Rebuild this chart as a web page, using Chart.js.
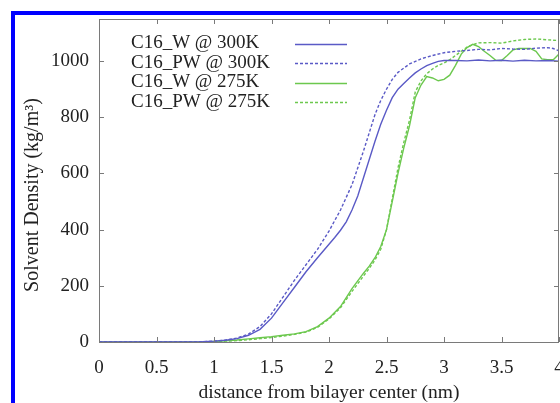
<!DOCTYPE html>
<html><head><meta charset="utf-8">
<script src="https://cdn.jsdelivr.net/npm/chart.js@4/dist/chart.umd.min.js"></script>
<style>html,body{margin:0;padding:0;background:#fff;overflow:hidden}#wrap{position:relative;width:560px;height:403px}</style>
</head><body><div id="wrap"><canvas id="c" width="560" height="403"></canvas></div>
<script>
// ---- data ----
const seriesLabels = ['C16_W @ 300K', 'C16_PW @ 300K', 'C16_W @ 275K', 'C16_PW @ 275K'];
const xTicks = [0, 0.5, 1, 1.5, 2, 2.5, 3, 3.5, 4];
const yTicks = [0, 200, 400, 600, 800, 1000];
const xTitle = 'distance from bilayer center (nm)';
const yTitle = 'Solvent Density (kg/m\u00B3)';

const xW300 = [0, 0.5, 0.8, 0.9, 1.0, 1.1, 1.2, 1.3, 1.4, 1.5, 1.6, 1.7, 1.8, 1.9, 2.0, 2.05, 2.1, 2.15, 2.2, 2.25, 2.3, 2.35, 2.4, 2.45, 2.5, 2.55, 2.6, 2.65, 2.7, 2.75, 2.8, 2.85, 2.9, 2.95, 3.0, 3.1, 3.2, 3.3, 3.4, 3.5, 3.6, 3.7, 3.8, 3.9, 4.0];
const yW300 = [0, 0, 0, 1, 3, 6, 12, 24, 45, 85, 140, 195, 250, 300, 348, 372, 398, 428, 470, 520, 585, 650, 715, 775, 825, 870, 900, 920, 940, 958, 972, 984, 992, 999, 1002, 1002, 1001, 1004, 1001, 1003, 1000, 1003, 1001, 1002, 1000];

const xPW300 = [0, 0.5, 0.8, 0.9, 1.0, 1.1, 1.2, 1.3, 1.4, 1.5, 1.6, 1.7, 1.8, 1.9, 2.0, 2.1, 2.2, 2.3, 2.35, 2.4, 2.45, 2.5, 2.55, 2.6, 2.65, 2.7, 2.8, 2.9, 3.0, 3.1, 3.2, 3.3, 3.4, 3.5, 3.6, 3.7, 3.8, 3.9, 3.95, 4.0];
const yPW300 = [0, 0, 0, 1, 3, 7, 14, 28, 55, 100, 160, 220, 275, 330, 395, 470, 560, 680, 745, 810, 860, 900, 935, 960, 975, 990, 1008, 1020, 1030, 1035, 1038, 1042, 1040, 1045, 1043, 1042, 1046, 1048, 1045, 1037];

const xW275 = [0, 0.5, 0.8, 0.9, 1.0, 1.1, 1.2, 1.3, 1.4, 1.5, 1.6, 1.7, 1.8, 1.9, 2.0, 2.1, 2.2, 2.3, 2.35, 2.4, 2.45, 2.5, 2.55, 2.6, 2.65, 2.7, 2.75, 2.8, 2.85, 2.9, 2.95, 3.0, 3.05, 3.1, 3.15, 3.2, 3.25, 3.3, 3.35, 3.4, 3.45, 3.5, 3.55, 3.6, 3.65, 3.7, 3.75, 3.8, 3.85, 3.9, 3.95, 4.0];
const yW275 = [0, 0, 0, 0, 2, 4, 7, 11, 15, 19, 24, 29, 37, 55, 85, 126, 190, 245, 270, 300, 340, 400, 500, 600, 690, 770, 870, 915, 945, 940, 930, 935, 950, 985, 1025, 1048, 1060, 1052, 1035, 1020, 1003, 1002, 1020, 1040, 1045, 1045, 1045, 1035, 1008, 1005, 1005, 1025];

const xPW275 = [0, 0.5, 0.8, 0.9, 1.0, 1.1, 1.2, 1.3, 1.4, 1.5, 1.6, 1.7, 1.8, 1.9, 2.0, 2.1, 2.2, 2.3, 2.35, 2.4, 2.45, 2.5, 2.55, 2.6, 2.65, 2.7, 2.75, 2.8, 2.85, 2.9, 2.95, 3.0, 3.05, 3.1, 3.15, 3.2, 3.25, 3.3, 3.4, 3.5, 3.6, 3.7, 3.8, 3.9, 4.0];
const yPW275 = [0, 0, 0, 0, 1, 3, 5, 8, 12, 16, 21, 27, 35, 52, 82, 122, 180, 235, 262, 292, 330, 400, 510, 620, 710, 790, 890, 930, 955, 972, 985, 993, 1005, 1020, 1035, 1050, 1058, 1065, 1066, 1064, 1072, 1077, 1079, 1076, 1073];

// ---- styling ----
const BLUE = '#5a5ac6';
const GREEN = '#6cc84e';
const FONT = 'Liberation Serif';
const TXT = '#222222';

function pts(xs, ys) { return xs.map((x, i) => ({ x: x, y: ys[i] })); }

const datasets = [
  { label: seriesLabels[0], data: pts(xW300, yW300), borderColor: BLUE, borderWidth: 1.4, borderDash: [] },
  { label: seriesLabels[1], data: pts(xPW300, yPW300), borderColor: BLUE, borderWidth: 1.4, borderDash: [3, 2] },
  { label: seriesLabels[2], data: pts(xW275, yW275), borderColor: GREEN, borderWidth: 1.4, borderDash: [] },
  { label: seriesLabels[3], data: pts(xPW275, yPW275), borderColor: GREEN, borderWidth: 1.4, borderDash: [3, 2] }
].map(d => Object.assign(d, { pointRadius: 0, fill: false, tension: 0 }));

const decor = {
  id: 'decor',
  beforeDraw(chart) {
    const ctx = chart.ctx;
    ctx.save();
    ctx.fillStyle = '#0000ff';
    ctx.fillRect(11, 11, 560, 4);
    ctx.fillRect(11, 11, 4, 403);
    ctx.restore();
  },
  afterDraw(chart) {
    const ctx = chart.ctx, a = chart.chartArea;
    const xs = chart.scales.x, ys = chart.scales.y;
    ctx.save();
    ctx.strokeStyle = '#7a7a7a';
    ctx.lineWidth = 1;
    ctx.strokeRect(Math.round(a.left) + 0.5, Math.round(a.top) + 0.5, Math.round(a.right - a.left) - 1, Math.round(a.bottom - a.top));
    ctx.beginPath();
    const L = 5;
    xTicks.forEach(v => {
      const px = Math.round(xs.getPixelForValue(v)) + 0.5;
      ctx.moveTo(px, a.bottom); ctx.lineTo(px, a.bottom - L);
      ctx.moveTo(px, a.top); ctx.lineTo(px, a.top + L);
    });
    yTicks.forEach(v => {
      const py = Math.round(ys.getPixelForValue(v)) + 0.5;
      ctx.moveTo(a.left, py); ctx.lineTo(a.left + L, py);
      ctx.moveTo(a.right, py); ctx.lineTo(a.right - L, py);
    });
    ctx.stroke();
    // y axis title
    ctx.save();
    ctx.fillStyle = TXT;
    ctx.font = '20px "' + FONT + '"';
    ctx.textAlign = 'center';
    ctx.textBaseline = 'middle';
    ctx.translate(33, 195);
    ctx.rotate(-Math.PI / 2);
    ctx.fillText(yTitle, 0, 0);
    ctx.restore();
    // legend
    ctx.font = '19px "' + FONT + '"';
    ctx.textBaseline = 'middle';
    ctx.textAlign = 'left';
    const rowY = [43.5, 63, 82.5, 102];
    chart.data.datasets.forEach((d, i) => {
      ctx.fillStyle = TXT;
      ctx.fillText(d.label, 131, rowY[i]);
      ctx.beginPath();
      ctx.strokeStyle = d.borderColor;
      ctx.lineWidth = 1.4;
      ctx.setLineDash(d.borderDash);
      ctx.moveTo(295, Math.round(rowY[i]) + 0.5);
      ctx.lineTo(347, Math.round(rowY[i]) + 0.5);
      ctx.stroke();
    });
    ctx.restore();
  }
};

new Chart(document.getElementById('c'), {
  type: 'line',
  data: { datasets: datasets },
  options: {
    responsive: false,
    animation: false,
    devicePixelRatio: 1,
    layout: { padding: { left: 0, top: 19, right: 1, bottom: 0 } },
    plugins: { legend: { display: false }, tooltip: { enabled: false } },
    scales: {
      x: {
        type: 'linear', min: 0, max: 4,
        afterBuildTicks: s => { s.ticks = xTicks.map(v => ({ value: v })); },
        afterFit: s => { s.height = 61; s.paddingLeft = 0; s.paddingRight = 0; },
        grid: { display: false, drawTicks: false },
        border: { display: false },
        ticks: { color: TXT, font: { family: FONT, size: 19 }, padding: 15, maxRotation: 0, autoSkip: false, callback: v => String(v) },
        title: { display: true, text: xTitle, color: TXT, font: { family: FONT, size: 19.5, lineHeight: 1 }, padding: { top: 0, bottom: 0 } }
      },
      y: {
        type: 'linear', min: 0, max: 1150,
        afterBuildTicks: s => { s.ticks = yTicks.map(v => ({ value: v })); },
        afterFit: s => { s.width = 99; s.paddingTop = 0; s.paddingBottom = 0; },
        grid: { display: false, drawTicks: false },
        border: { display: false },
        ticks: { color: TXT, font: { family: FONT, size: 19 }, padding: 10, callback: v => String(v) },
        title: { display: false }
      }
    }
  },
  plugins: [decor]
});
</script>
</body></html>
